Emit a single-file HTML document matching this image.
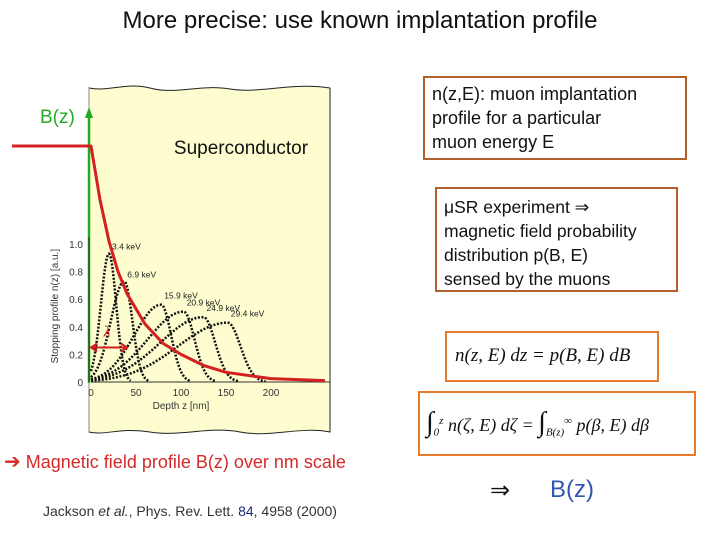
<!DOCTYPE html>
<html><head><meta charset="utf-8"><style>
body{margin:0;width:720px;height:540px;background:#fff;position:relative;overflow:hidden;font-family:"Liberation Sans",sans-serif}
.abs{position:absolute}
.box{position:absolute;box-sizing:border-box;border:2.5px solid #b4602c;color:#111;font-size:18px;line-height:24px;padding:4px 7px;white-space:nowrap}
.math{font-family:"Liberation Serif",serif;font-style:italic}
</style></head><body>
<div class="abs" style="left:0;width:720px;top:7px;text-align:center;font-size:24px;color:#111">More precise: use known implantation profile</div>

<svg class="abs" style="left:0;top:0" width="720" height="540" id="chart">
<path d="M89,88 C110,92 125,82 150,88 C175,95 200,84 230,89 C260,94 290,82 330,88 L330,432 C300,426 270,438 240,432 C210,426 180,437 150,432 C120,427 105,436 89,432 Z" fill="#fdfdcf" stroke="#222" stroke-width="1"/>
<line x1="89" y1="88" x2="89" y2="432" stroke="#888" stroke-width="1"/>
<text x="241" y="154" font-size="19" text-anchor="middle" fill="#111" font-family="Liberation Sans">Superconductor</text>
<line x1="89" y1="383" x2="89" y2="112" stroke="#22aa22" stroke-width="2.5"/>
<polygon points="85,118 93,118 89,107" fill="#22aa22"/>
<text x="40" y="123" font-size="19" fill="#22aa22" font-family="Liberation Sans">B(z)</text>
<g id="axes"></g>
<g id="profiles"></g>
<g id="field"></g>
</svg>

<div class="box" style="left:423px;top:76px;width:264px;height:84px">n(z,E): muon implantation<br>profile for a particular<br>muon energy E</div>
<div class="box" style="left:435px;top:187px;width:243px;height:105px;padding:6px 7px;font-size:17.5px">μSR experiment ⇒<br>magnetic field probability<br>distribution p(B, E)<br>sensed by the muons</div>
<div class="box math" style="left:445px;top:331px;width:214px;height:51px;border-color:#e87a2c;font-size:19px;padding:11px 8px">n(z, E) dz = p(B, E) dB</div>
<div class="box math" style="left:418px;top:391px;width:278px;height:65px;border-color:#e87a2c;font-size:18px;padding:16px 6px"><span style="font-size:28px;font-style:normal">∫</span><sub style="font-size:11px">0</sub><sup style="font-size:11px">z</sup> n(ζ, E) dζ = <span style="font-size:28px;font-style:normal">∫</span><sub style="font-size:11px">B(z)</sub><sup style="font-size:11px">∞</sup> p(β, E) dβ</div>
<div class="abs" style="left:4px;top:449px;font-size:18px;color:#d42a2a"><span style="font-size:20px">➔</span> Magnetic field profile B(z) over nm scale</div>
<div class="abs" style="left:43px;top:503px;font-size:14px;color:#333">Jackson <i>et al.</i>, Phys. Rev. Lett. <b style="color:#1a2a80;font-weight:normal">84</b>, 4958 (2000)</div>
<div class="abs" style="left:490px;top:476px;font-size:24px;color:#111">⇒</div>
<div class="abs" style="left:550px;top:476px;font-size:24px;color:#3356b0">B(z)</div>

<script>
const xTicks=[0,50,100,150,200];
const yTicks=[0,0.2,0.4,0.6,0.8,1.0];
const yTickLabels=["0","0.2","0.4","0.6","0.8","1.0"];
const energies=["3.4 keV","6.9 keV","15.9 keV","20.9 keV","24.9 keV","29.4 keV"];
const peakDepth=[20,37,78,103,125,152];
const peakHeight=[0.93,0.73,0.56,0.51,0.47,0.43];
const riseWidth=[9,15,30,40,48,55];
const fallWidth=[8,9,11,12,13,14];
const fieldDepth=[0,10,20,30,40,60,80,100,125,150,200,260];
const fieldValue=[1.71,1.32,1.02,0.80,0.64,0.42,0.28,0.2,0.12,0.07,0.025,0.01];

const ns="http://www.w3.org/2000/svg";
const X=z=>91+z*0.9, Y=v=>382-v*138;
function mk(tag,attrs,parent,txt){const e=document.createElementNS(ns,tag);for(const k in attrs)e.setAttribute(k,attrs[k]);if(txt!==undefined)e.textContent=txt;parent.appendChild(e);return e;}
const ax=document.getElementById('axes');
const xl=mk('line',{x1:X(0),y1:Y(0),x2:330,y2:Y(0),stroke:'#333','stroke-width':1},ax);


const yl=mk('line',{x1:X(0)-2,y1:Y(0),x2:X(0)-2,y2:Y(1.05),stroke:'#333','stroke-width':1},ax);


xTicks.forEach(t=>{const e=mk('text',{x:X(t),y:Y(0)+14,'font-size':10,'text-anchor':'middle',fill:'#333'},ax,String(t));

});
yTicks.forEach((t,i)=>{const e=mk('text',{x:X(0)-8,y:Y(t)+4,'font-size':10,'text-anchor':'end',fill:'#333'},ax,yTickLabels[i]);

});
const xt=mk('text',{x:X(100),y:Y(0)+27,'font-size':10,'text-anchor':'middle',fill:'#333'},ax,'Depth z [nm]');


const yt=mk('text',{x:0,y:0,'font-size':10,'text-anchor':'middle',fill:'#333',transform:'translate(58,'+Y(0.55)+') rotate(-90)'},ax,'Stopping profile n(z)  [a.u.]');



const pg=document.getElementById('profiles');
peakDepth.forEach((p,i)=>{
  let d='';
  for(let z=Math.max(0,p-3*riseWidth[i]);z<=p+3*fallWidth[i];z+=1){
    const w=z<p?riseWidth[i]:fallWidth[i];
    const v=peakHeight[i]*Math.exp(-((z-p)*(z-p))/(2*w*w));
    d+=(d?'L':'M')+X(z).toFixed(1)+','+Y(v).toFixed(1);
  }
  const path=mk('path',{d:d,fill:'none',stroke:'#111','stroke-width':2.5,'stroke-dasharray':'2,1.6'},pg);
  
  
  const lab=mk('text',{x:X(p)+3,y:Y(peakHeight[i])-4-(i>1?2:0),'font-size':8.5,fill:'#222'},pg,energies[i]);
  
  
});

const fg=document.getElementById('field');
let fd='M12,'+Y(fieldValue[0]).toFixed(1);
fieldDepth.forEach((z,i)=>{fd+='L'+X(Math.min(z,264)).toFixed(1)+','+Y(fieldValue[i]).toFixed(1);});
const fp=mk('path',{d:fd,fill:'none',stroke:'#d42020','stroke-width':3,'stroke-linejoin':'round'},fg);


const arr=mk('path',{d:'M'+X(0)+','+Y(0.25)+'L'+X(40)+','+Y(0.25)+'M'+(X(0)+6)+','+(Y(0.25)-4)+'L'+X(0)+','+Y(0.25)+'L'+(X(0)+6)+','+(Y(0.25)+4)+'M'+(X(40)-6)+','+(Y(0.25)-4)+'L'+X(40)+','+Y(0.25)+'L'+(X(40)-6)+','+(Y(0.25)+4),stroke:'#d42020','stroke-width':2,fill:'none'},fg);


const lam=mk('text',{x:X(14),y:Y(0.33),'font-size':16,fill:'#d42020','font-style':'italic','font-family':'Liberation Serif'},fg,'λ');


</script>
</body></html>
